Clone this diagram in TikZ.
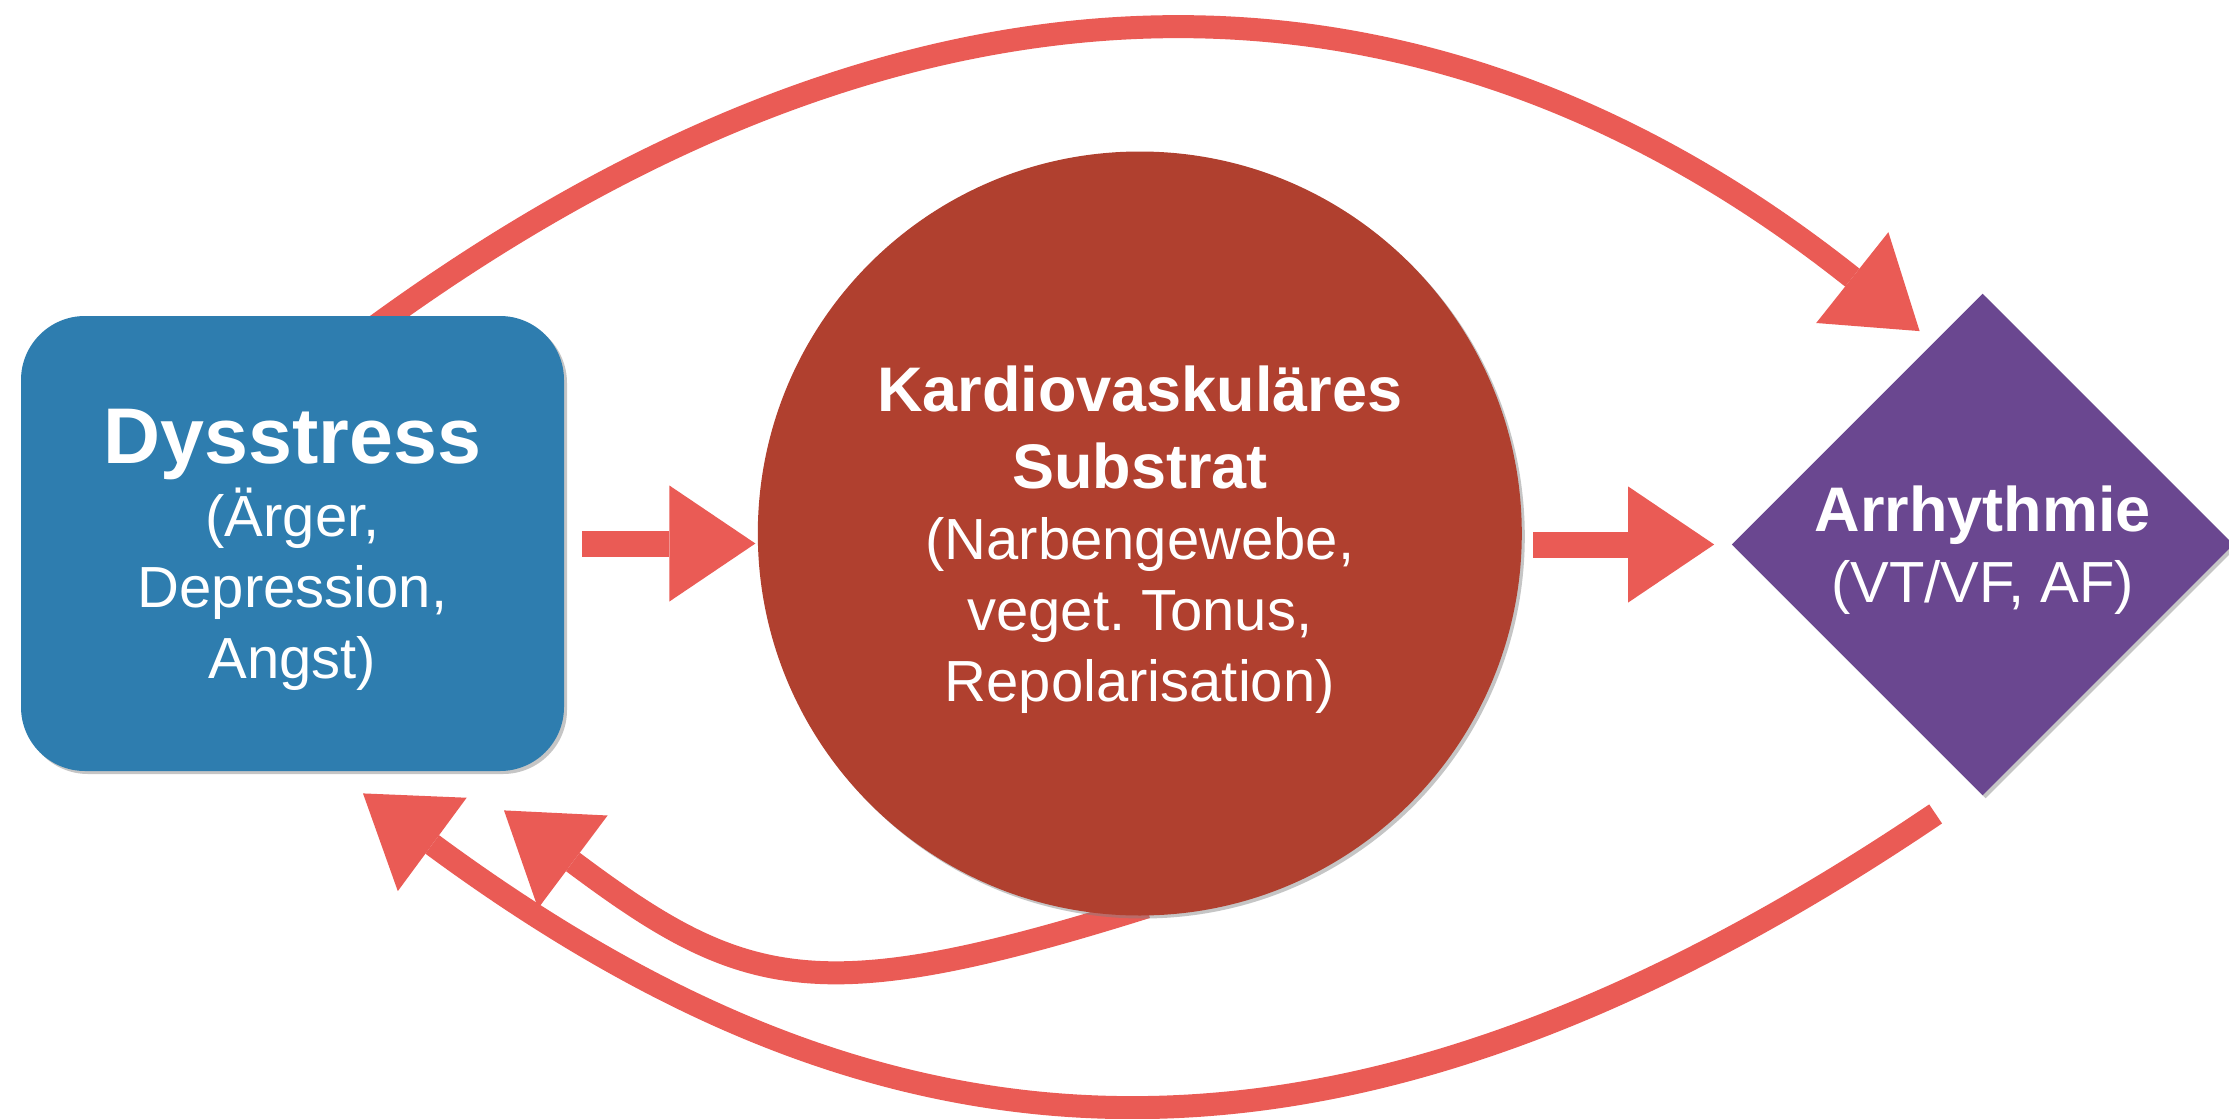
\documentclass[tikz,border=0pt]{standalone}
\usepackage{fontspec}
\setmainfont{Liberation Sans}
\usepackage{tikz}
\usetikzlibrary{shapes.geometric, arrows.meta, positioning, shadows, backgrounds}

\definecolor{boxblue}{RGB}{46,125,175}
\definecolor{discred}{RGB}{176,64,47}
\definecolor{rhombviolet}{RGB}{106,71,144}
\definecolor{crayon}{RGB}{234,91,85}

\newcommand{\headfont}{\fontsize{31.5}{38.5}\selectfont\bfseries}

\begin{document}
\begin{tikzpicture}[
  x=0.5pt, y=-0.5pt,
  papershadow/.style={drop shadow={shadow xshift=1.5pt, shadow yshift=-1.5pt, opacity=0.45}},
  box/.style={rectangle, rounded corners=32pt, minimum width=271.5pt, minimum height=227.5pt, fill=boxblue, papershadow},
  disc/.style={circle, minimum size=382pt, fill=discred, papershadow},
  rhomb/.style={diamond, aspect=1, minimum width=251pt, minimum height=251pt, fill=rhombviolet, papershadow},
  every node/.append style={align=center, text=white, inner sep=0pt, text depth=0pt, font=\fontsize{29}{35.5}\selectfont},
  arrow/.style={-{Triangle[length=43pt, width=58pt, line width=0pt]}, line width=11.5pt, draw=crayon},
  fatarrow/.style={arrow, line width=13pt}
]
\useasboundingbox (0,0) rectangle (2229,1119);

\node (dysstress) [box] at (292.5,543.5) {{\fontsize{39.5}{47}\selectfont\bfseries Dysstress}\\[1pt](Ärger,\\Depression,\\Angst)};
\node (substrat) [disc, right=96.5pt of dysstress, yshift=5pt] {{\headfont Kardiovaskuläres}\\[3pt]{\headfont Substrat}\\(Narbengewebe,\\veget.\ Tonus,\\Repolarisation)};
\node (arrhythmie) [rhomb, right=104.5pt of substrat, yshift=-5.5pt] {{\headfont Arrhythmie}\\(VT/VF, AF)};

\begin{scope}[on background layer]
\fill[white] (0,0) rectangle (2229,1119);
\draw[fatarrow, shorten <=9pt, shorten >=1pt] (dysstress.east) -- (dysstress.east -| substrat.west);
\draw[fatarrow, shorten <=5.5pt, shorten >=8.5pt] (arrhythmie.west -| substrat.east) -- (arrhythmie.west);
\draw[arrow, shorten <=-10pt] ([xshift=48.75pt]dysstress.north) .. controls (916,-68) and (1425,-62) .. ([xshift=-31.5pt, yshift=-19pt]arrhythmie.north);
\draw[arrow, shorten <=-14pt] (substrat.-93) .. controls (818,1010) and (744,990) .. ([xshift=105.75pt, yshift=-19.5pt]dysstress.south);
\draw[arrow] ([xshift=-23.5pt, yshift=-9pt]arrhythmie.south) .. controls (1304,1241) and (859,1159) .. ([xshift=35.25pt, yshift=-11pt]dysstress.south);
\end{scope}
\end{tikzpicture}
\end{document}
